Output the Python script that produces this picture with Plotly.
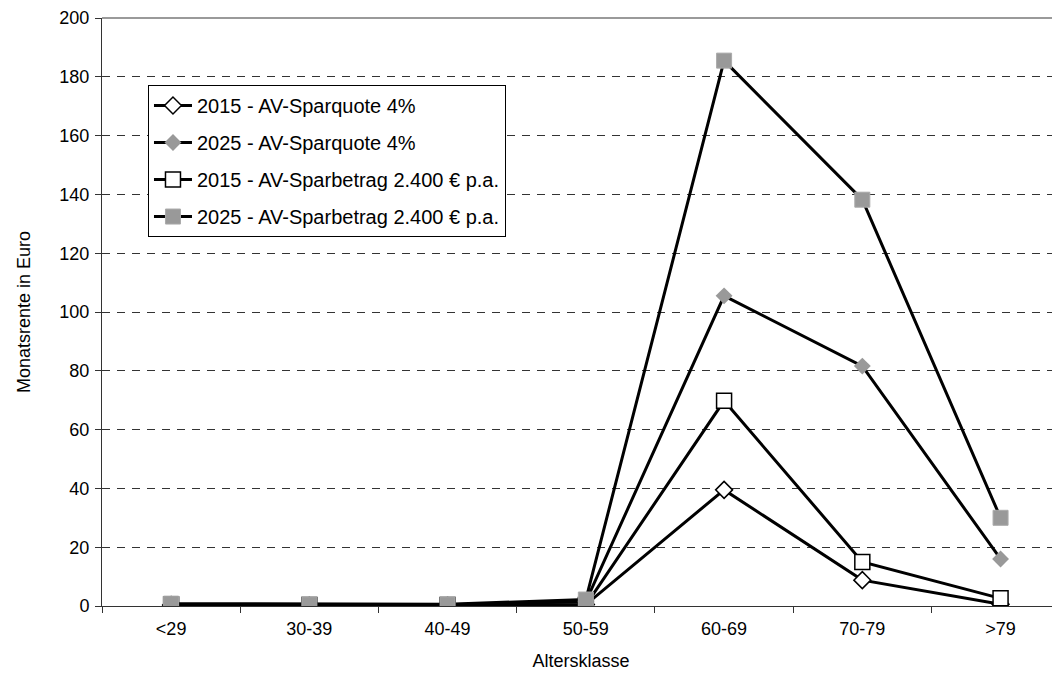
import plotly.graph_objects as go

categories = ["<29", "30-39", "40-49", "50-59", "60-69", "70-79", ">79"]
names = [
    "2015 - AV-Sparquote 4%",
    "2025 - AV-Sparquote 4%",
    "2015 - AV-Sparbetrag 2.400 € p.a.",
    "2025 - AV-Sparbetrag 2.400 € p.a.",
]
quote_2015 = [0.3, 0.2, 0.2, 0.5, 39.5, 8.8, 0.6]
quote_2025 = [0.5, 0.4, 0.4, 1.5, 105.5, 81.6, 16.0]
betrag_2015 = [0.5, 0.3, 0.3, 0.3, 69.8, 15.0, 2.6]
betrag_2025 = [0.8, 0.6, 0.6, 2.2, 185.5, 138.2, 30.0]

y_ticks = [0, 20, 40, 60, 80, 100, 120, 140, 160, 180, 200]

FONT = "Liberation Sans, Arial, sans-serif"
FS = 18
GRAY = "#999999"

styles = [
    dict(symbol="diamond", size=13, color="white", line=dict(color="black", width=1.5)),
    dict(symbol="diamond", size=13, color=GRAY, line=dict(color=GRAY, width=0)),
    dict(symbol="square", size=15, color="white", line=dict(color="black", width=1.5)),
    dict(symbol="square", size=15, color=GRAY, line=dict(color="#aaaaaa", width=1)),
]
series = [quote_2015, quote_2025, betrag_2015, betrag_2025]

fig = go.Figure()
for i, (nm, vals, st) in enumerate(zip(names, series, styles)):
    fig.add_trace(go.Scatter(
        x=categories, y=vals, name=nm, mode="lines+markers",
        line=dict(color="black", width=3),
        marker=st, legendgroup=f"g{i}",
    ))

fig.add_shape(type="line", xref="paper", yref="paper", x0=0, x1=1, y0=1, y1=1,
              line=dict(color="#9a9a9a", width=2), layer="above")

fig.update_layout(
    width=1052, height=667,
    margin=dict(l=94, r=0, t=10, b=69),
    paper_bgcolor="white", plot_bgcolor="white",
    font=dict(family=FONT, size=FS, color="black"),
    showlegend=True,
    legend=dict(
        x=0.048, y=0.886, xanchor="left", yanchor="top",
        bordercolor="black", borderwidth=1, bgcolor="white",
        font=dict(family=FONT, size=20, color="black"),
        tracegroupgap=8, traceorder="grouped", itemwidth=38,
    ),
    xaxis=dict(
        type="category", range=[-0.5, 6.43],
        tickson="boundaries", ticks="outside", ticklen=6, tickcolor="#333",
        showline=True, linecolor="#333", linewidth=1,
        showgrid=False, zeroline=False, ticklabelstandoff=6,
        tickfont=dict(family=FONT, size=FS),
        title=dict(text="Altersklasse", font=dict(family=FONT, size=FS), standoff=16),
    ),
    yaxis=dict(
        range=[0, 200], tickmode="array", tickvals=y_ticks,
        ticks="outside", ticklen=6, tickcolor="#333",
        showline=True, linecolor="#333", linewidth=1,
        showgrid=True, gridcolor="#333", gridwidth=1, griddash="8px,7px",
        zeroline=False, ticklabelstandoff=2, ticklabeloverflow="allow",
        tickfont=dict(family=FONT, size=FS),
        title=dict(text="Monatsrente in Euro", font=dict(family=FONT, size=FS), standoff=24),
    ),
)

fig.write_html("out.html")
